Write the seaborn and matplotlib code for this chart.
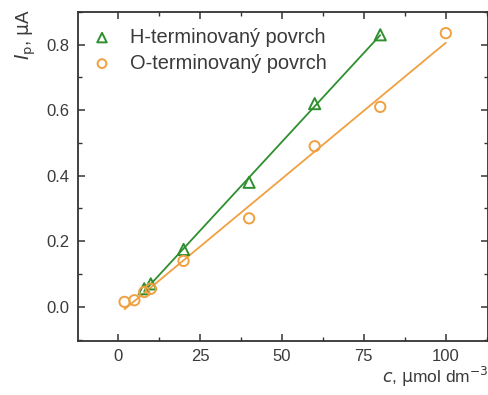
import numpy as np
import pandas as pd
import matplotlib
matplotlib.use("Agg")
import matplotlib.pyplot as plt
import seaborn as sns
from matplotlib.ticker import MultipleLocator

# concentration (umol dm^-3) and peak current (uA)
c_h = [8, 10, 20, 40, 60, 80]
i_h = [0.055, 0.07, 0.175, 0.38, 0.62, 0.83]
c_o = [2, 5, 8, 10, 20, 40, 60, 80, 100]
i_o = [0.015, 0.02, 0.045, 0.055, 0.14, 0.27, 0.49, 0.61, 0.835]

label_h = "H-terminovaný povrch"
label_o = "O-terminovaný povrch"
green = "#2f8f2f"
orange = "#f0a040"

sns.set_theme(style="ticks")
plt.rcParams["font.family"] = ["Liberation Sans", "DejaVu Sans"]

fig = plt.figure(figsize=(4.89, 3.95), dpi=100)
ax = fig.add_axes([0.1595, 0.137, 0.838, 0.833])

df_h = pd.DataFrame({"c": c_h, "i": i_h})
df_o = pd.DataFrame({"c": c_o, "i": i_o})

# linear fits
for df, col in ((df_h, green), (df_o, orange)):
    k, q = np.polyfit(df["c"], df["i"], 1)
    xs = np.array([df["c"].min(), df["c"].max()])
    sns.lineplot(x=xs, y=k * xs + q, color=col, lw=1.3, ax=ax, legend=False)

ax.scatter(df_h["c"], df_h["i"], marker="^", s=65, facecolors="none",
           edgecolors=green, linewidths=1.4, label=label_h, zorder=3)
ax.scatter(df_o["c"], df_o["i"], marker="o", s=55, facecolors="none",
           edgecolors=orange, linewidths=1.4, label=label_o, zorder=3)

ax.set_xlim(-12.2, 112.8)
ax.set_ylim(-0.104, 0.9)
ax.xaxis.set_major_locator(MultipleLocator(25))
ax.xaxis.set_minor_locator(MultipleLocator(12.5))
ax.yaxis.set_major_locator(MultipleLocator(0.2))
ax.yaxis.set_minor_locator(MultipleLocator(0.1))
ax.yaxis.set_major_formatter(matplotlib.ticker.FormatStrFormatter("%.1f"))
ax.tick_params(which="both", direction="in", top=True, right=True,
               labelsize=12, colors="#333333", labelcolor="#3a3a3a", pad=6)
ax.tick_params(which="major", length=5, width=1.1)
ax.tick_params(which="minor", length=3, width=1.0)
for s in ax.spines.values():
    s.set_color("#333333")
    s.set_linewidth(1.3)

fig.text(0.998, 0.015, r"$c$, $\mathrm{\mu}$mol dm$^{-3}$", ha="right", va="bottom",
         fontsize=12.5, color="#3a3a3a")
fig.text(0.028, 0.978, r"$I_{\mathrm{p}}$, $\mathrm{\mu}$A", rotation=90, ha="left",
         va="top", fontsize=13.5, color="#3a3a3a")

leg = ax.legend(loc="upper left", frameon=False, markerscale=0.85,
                fontsize=14.4, handletextpad=1.0, borderaxespad=0.4,
                labelspacing=0.35, handlelength=0.8)
for t in leg.get_texts():
    t.set_color("#3a3a3a")

fig.savefig("out.png", dpi=100)
